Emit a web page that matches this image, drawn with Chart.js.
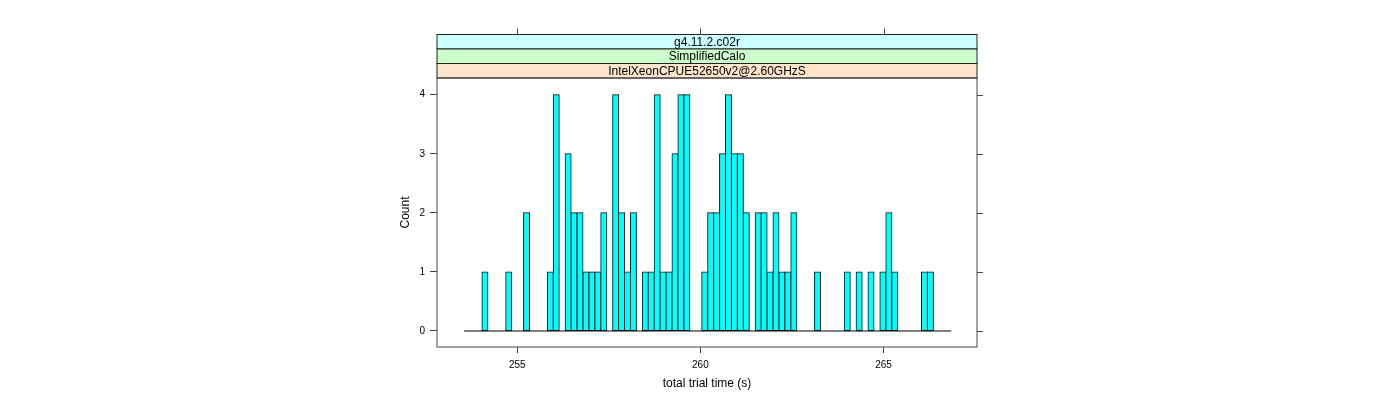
<!DOCTYPE html>
<html>
<head>
<meta charset="utf-8">
<script src="https://cdn.jsdelivr.net/npm/chart.js@4"></script>
<style>
  html, body { margin: 0; padding: 0; background: #fff; }
  canvas { display: block; }
</style>
</head>
<body>
<canvas id="histChart" width="1400" height="400"></canvas>
<script>
// bin centres (s) of the non-empty bins and their counts
const binCenters = [254.119, 254.768, 255.254, 255.903, 256.065, 256.389, 256.551, 256.713,
  256.875, 257.038, 257.200, 257.362, 257.686, 257.848, 258.010, 258.172, 258.497, 258.659,
  258.821, 258.983, 259.145, 259.307, 259.469, 259.631, 260.118, 260.280, 260.442, 260.604,
  260.766, 260.928, 261.091, 261.253, 261.577, 261.739, 261.901, 262.063, 262.225, 262.387,
  262.550, 263.198, 264.009, 264.333, 264.657, 264.981, 265.144, 265.306, 266.116, 266.278];
const binCounts = [1, 1, 2, 1, 4, 3, 2, 2,
  1, 1, 1, 2, 4, 2, 1, 2, 1, 1,
  4, 1, 1, 3, 4, 4, 1, 2, 2, 3,
  4, 3, 3, 2, 2, 2, 1, 2, 1, 1,
  2, 1, 1, 1, 1, 1, 2, 1, 1, 1];
// first and last break of the histogram
const breakRange = [253.552, 266.846];
const xTicks = [255, 260, 265];
const yTicks = [0, 1, 2, 3, 4];
const stripLabels = ['g4.11.2.c02r', 'SimplifiedCalo', 'IntelXeonCPUE52650v2@2.60GHzS'];
const stripColors = ['#ccffff', '#ccffcc', '#ffe5cc'];

const FONT = "'Liberation Sans', Arial, Helvetica, sans-serif";
const axisCol = '#444';

const framePlugin = {
  id: 'latticeFrame',
  afterDraw(chart) {
    const ctx = chart.ctx;
    const a = chart.chartArea;
    const xs = chart.scales.x, ys = chart.scales.y;
    const stripH = 14.5;
    ctx.save();
    // strips above the panel
    ctx.font = '12px ' + FONT;
    ctx.textAlign = 'center';
    ctx.textBaseline = 'middle';
    for (let i = 0; i < stripLabels.length; i++) {
      const y0 = a.top - stripH * (stripLabels.length - i);
      ctx.fillStyle = stripColors[i];
      ctx.fillRect(a.left, y0, a.right - a.left, stripH);
      ctx.strokeStyle = '#222';
      ctx.lineWidth = 1;
      ctx.strokeRect(a.left, y0, a.right - a.left, stripH);
      ctx.fillStyle = '#000';
      ctx.fillText(stripLabels[i], (a.left + a.right) / 2, y0 + stripH / 2 + 0.5);
    }
    // panel frame
    ctx.strokeStyle = axisCol;
    ctx.strokeRect(a.left, a.top, a.right - a.left, a.bottom - a.top);
    // ticks on top (above strips) and right
    const stripTop = a.top - stripH * stripLabels.length;
    ctx.beginPath();
    xTicks.forEach(v => {
      const px = Math.round(xs.getPixelForValue(v)) + 0.5;
      ctx.moveTo(px, stripTop);
      ctx.lineTo(px, stripTop - 6);
    });
    yTicks.forEach(v => {
      const py = Math.round(ys.getPixelForValue(v)) + 0.5;
      ctx.moveTo(a.right, py);
      ctx.lineTo(a.right + 6, py);
    });
    ctx.stroke();
    ctx.restore();
  }
};

new Chart(document.getElementById('histChart'), {
  type: 'bar',
  data: {
    datasets: [{
      type: 'bar',
      data: binCenters.map((x, i) => ({ x: x, y: binCounts[i] })),
      backgroundColor: '#00ffff',
      borderColor: '#111',
      borderWidth: 1,
      borderSkipped: false,
      barPercentage: 1,
      categoryPercentage: 1,
      inflateAmount: 0.5,
      order: 1
    }, {
      type: 'line',
      data: breakRange.map(x => ({ x: x, y: 0 })),
      borderColor: '#000',
      borderWidth: 1,
      pointRadius: 0,
      order: 2
    }]
  },
  options: {
    responsive: false,
    animation: false,
    layout: { padding: { left: 390, right: 423, top: 78, bottom: 0 } },
    plugins: { legend: { display: false }, tooltip: { enabled: false } },
    scales: {
      x: {
        type: 'linear',
        min: 252.81,
        max: 267.55,
        offset: false,
        grid: { offset: false, drawOnChartArea: false, drawTicks: true, tickLength: 6, color: axisCol },
        border: { display: false },
        ticks: { font: { family: FONT, size: 10 }, color: '#000', padding: 6, maxRotation: 0 },
        title: { display: true, text: 'total trial time (s)', font: { family: FONT, size: 12 }, color: '#000', padding: { top: 0, bottom: 9 } },
        afterBuildTicks(scale) { scale.ticks = xTicks.map(v => ({ value: v })); },
        afterFit(scale) { scale.height = 53; }
      },
      y: {
        min: -0.271,
        max: 4.283,
        grid: { drawOnChartArea: false, drawTicks: true, tickLength: 7, color: axisCol },
        border: { display: false },
        ticks: { font: { family: FONT, size: 10 }, color: '#000', padding: 5 },
        title: { display: true, text: 'Count', font: { family: FONT, size: 12 }, color: '#000', padding: { top: 8, bottom: 0 } },
        afterBuildTicks(scale) { scale.ticks = yTicks.map(v => ({ value: v })); },
        afterFit(scale) { scale.width = 47; }
      }
    }
  },
  plugins: [framePlugin]
});
</script>
</body>
</html>
